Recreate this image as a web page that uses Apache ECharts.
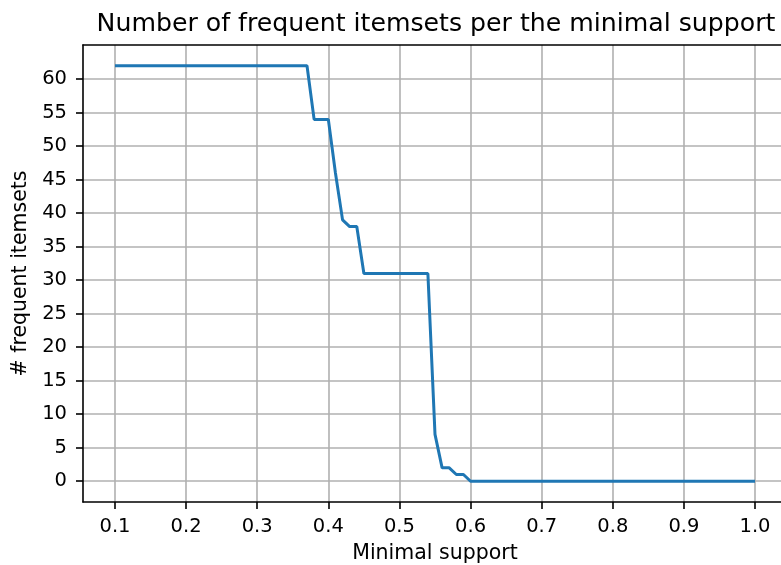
<!DOCTYPE html>
<html>
<head>
<meta charset="utf-8">
<script src="https://cdn.jsdelivr.net/npm/echarts@6/dist/echarts.min.js"></script>
<style>
  html, body { margin: 0; padding: 0; background: #ffffff; }
  #chart { width: 781px; height: 565px; }
</style>
</head>
<body>
<div id="chart"></div>
<script>
const titleText = 'Number of frequent itemsets per the minimal support';
const xLabel = 'Minimal support';
const yLabel = '# frequent itemsets';

const support = [
  0.10, 0.11, 0.12, 0.13, 0.14, 0.15, 0.16, 0.17, 0.18, 0.19,
  0.20, 0.21, 0.22, 0.23, 0.24, 0.25, 0.26, 0.27, 0.28, 0.29,
  0.30, 0.31, 0.32, 0.33, 0.34, 0.35, 0.36, 0.37, 0.38, 0.39,
  0.40, 0.41, 0.42, 0.43, 0.44, 0.45, 0.46, 0.47, 0.48, 0.49,
  0.50, 0.51, 0.52, 0.53, 0.54, 0.55, 0.56, 0.57, 0.58, 0.59,
  0.60, 0.61, 0.62, 0.63, 0.64, 0.65, 0.66, 0.67, 0.68, 0.69,
  0.70, 0.71, 0.72, 0.73, 0.74, 0.75, 0.76, 0.77, 0.78, 0.79,
  0.80, 0.81, 0.82, 0.83, 0.84, 0.85, 0.86, 0.87, 0.88, 0.89,
  0.90, 0.91, 0.92, 0.93, 0.94, 0.95, 0.96, 0.97, 0.98, 0.99,
  1.00
];

const itemsetCount = [
  62, 62, 62, 62, 62, 62, 62, 62, 62, 62,
  62, 62, 62, 62, 62, 62, 62, 62, 62, 62,
  62, 62, 62, 62, 62, 62, 62, 62, 54, 54,
  54, 46, 39, 38, 38, 31, 31, 31, 31, 31,
  31, 31, 31, 31, 31, 7, 2, 2, 1, 1,
  0, 0, 0, 0, 0, 0, 0, 0, 0, 0,
  0, 0, 0, 0, 0, 0, 0, 0, 0, 0,
  0, 0, 0, 0, 0, 0, 0, 0, 0, 0,
  0, 0, 0, 0, 0, 0, 0, 0, 0, 0,
  0
];

const xTicks = [0.1, 0.2, 0.3, 0.4, 0.5, 0.6, 0.7, 0.8, 0.9, 1.0];
const yTicks = [0, 5, 10, 15, 20, 25, 30, 35, 40, 45, 50, 55, 60];

const X_MIN = 0.055, X_MAX = 1.045;
const Y_MIN = -3.1, Y_MAX = 65.1;

const FONT = 'DejaVu Sans';
const gridColor = '#b0b0b0';
const spineColor = '#000000';

const chart = echarts.init(document.getElementById('chart'), null, { renderer: 'canvas' });

const option = {
  animation: false,
  backgroundColor: '#ffffff',
  title: {
    text: titleText,
    left: 436,
    top: 12,
    textAlign: 'center',
    padding: 0,
    textStyle: { fontFamily: FONT, fontSize: 25.2, fontWeight: 'normal', color: '#000' }
  },
  grid: { left: 83, top: 45, width: 704, height: 457, containLabel: false, outerBoundsMode: 'none' },
  xAxis: [
    {
      type: 'value',
      position: 'bottom',
      min: X_MIN,
      max: X_MAX,
      name: xLabel,
      nameLocation: 'middle',
      nameGap: 41,
      nameTextStyle: { fontFamily: FONT, fontSize: 20.5, color: '#000' },
      axisLine: { show: true, onZero: false, lineStyle: { color: spineColor, width: 1.6 } },
      axisTick: { show: true, inside: false, length: 7, customValues: xTicks, lineStyle: { color: spineColor, width: 1.6 } },
      axisLabel: {
        show: true, margin: 15, customValues: xTicks,
        fontFamily: FONT, fontSize: 19.5, color: '#000',
        formatter: v => v.toFixed(1)
      },
      splitLine: { show: true, lineStyle: { color: gridColor, width: 1.6 } }
    },
    {
      type: 'value',
      position: 'top',
      min: X_MIN,
      max: X_MAX,
      axisLine: { show: true, onZero: false, lineStyle: { color: spineColor, width: 1.6 } },
      axisTick: { show: false },
      axisLabel: { show: false },
      splitLine: { show: false }
    }
  ],
  yAxis: {
    type: 'value',
    min: Y_MIN,
    max: Y_MAX,
    name: yLabel,
    nameLocation: 'middle',
    nameGap: 47,
    nameTextStyle: { fontFamily: FONT, fontSize: 20.5, color: '#000' },
    axisLine: { show: true, onZero: false, lineStyle: { color: spineColor, width: 1.6 } },
    axisTick: { show: true, inside: false, length: 7, customValues: yTicks, lineStyle: { color: spineColor, width: 1.6 } },
    axisLabel: {
      show: true, margin: 16, customValues: yTicks,
      fontFamily: FONT, fontSize: 19.5, color: '#000'
    },
    splitLine: { show: true, lineStyle: { color: gridColor, width: 1.6 } }
  },
  series: [
    {
      type: 'line',
      xAxisIndex: 0,
      data: support.map((s, i) => [s, itemsetCount[i]]),
      showSymbol: false,
      symbol: 'none',
      lineStyle: { color: '#1f77b4', width: 3 },
      itemStyle: { color: '#1f77b4' },
      z: 3
    }
  ]
};

chart.setOption(option);
</script>
</body>
</html>
